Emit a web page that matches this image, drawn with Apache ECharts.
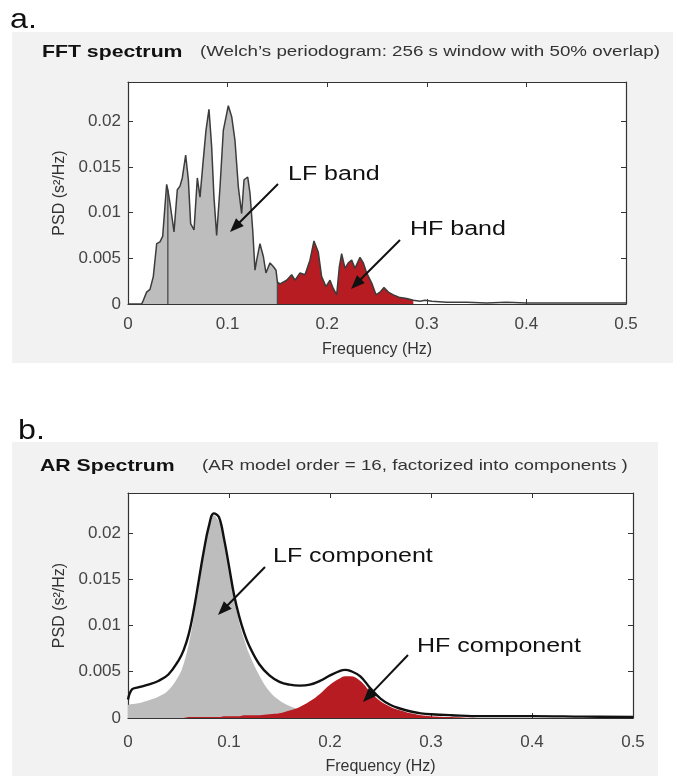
<!DOCTYPE html>
<html>
<head>
<meta charset="utf-8">
<script src="https://cdn.jsdelivr.net/npm/echarts@6/dist/echarts.min.js"></script>
<style>
html,body{margin:0;padding:0;background:#fff;}
#chart{width:673px;height:776px;}
</style>
</head>
<body>
<div id="chart"></div>
<script>
// ---------- Data ----------
// Panel a: FFT (Welch) spectrum
var fftFreq = [0, 0.005, 0.010, 0.0137, 0.0154, 0.0187, 0.0221, 0.0254, 0.0288, 0.0321, 0.0348, 0.0388, 0.040,
  0.0422, 0.0462, 0.0495, 0.0522, 0.0545, 0.0579, 0.0606, 0.0629, 0.0663, 0.0696, 0.0723, 0.0756, 0.0783,
  0.0813, 0.0840, 0.0863, 0.0890, 0.0924, 0.0957, 0.1007, 0.1041, 0.1074, 0.1108, 0.1141, 0.1165, 0.1202,
  0.1225, 0.1252, 0.1275, 0.1292, 0.1325, 0.1359, 0.1385, 0.1426, 0.1459, 0.1486, 0.150, 0.1526, 0.1593,
  0.1643, 0.1677, 0.1727, 0.1777, 0.1827, 0.1867, 0.191, 0.1944, 0.1988, 0.2028, 0.2061, 0.2095, 0.2122,
  0.2145, 0.2179, 0.2212, 0.2246, 0.2279, 0.2329, 0.2363, 0.2396, 0.2447, 0.2490, 0.2530, 0.2570, 0.2614,
  0.2664, 0.2731, 0.2798, 0.2865, 0.2932, 0.2982, 0.305, 0.32, 0.34, 0.36, 0.38, 0.40, 0.43, 0.46, 0.50];
var fftPsd = [0, 0, 0, 0, 0.0004, 0.0013, 0.0016, 0.0030, 0.0066, 0.0068, 0.0074, 0.0131, 0.0125,
  0.0110, 0.0079, 0.0125, 0.0129, 0.0138, 0.0163, 0.0136, 0.0088, 0.0081, 0.0138, 0.0117, 0.0158, 0.0190,
  0.0213, 0.0172, 0.0117, 0.0075, 0.0128, 0.0190, 0.0217, 0.0205, 0.0179, 0.0128, 0.0099, 0.0136, 0.0139,
  0.0121, 0.0081, 0.0037, 0.0048, 0.0066, 0.0052, 0.0034, 0.0045, 0.0041, 0.0037, 0.0024, 0.0022, 0.0026,
  0.0032, 0.0026, 0.0034, 0.0032, 0.0048, 0.0069, 0.0057, 0.0030, 0.0019, 0.0026, 0.0017, 0.0010, 0.0041,
  0.0055, 0.0039, 0.0045, 0.0048, 0.0039, 0.0051, 0.0045, 0.0034, 0.0023, 0.0010, 0.0013, 0.0018, 0.0013,
  0.0010, 0.0007, 0.0006, 0.0004, 0.0003, 0.0004, 0.0003, 0.0002, 0.0002, 0.0001, 0.0002, 0.0001, 0.0001, 0.0001, 0.0001];
var lfBand = [0, 0.15];        // gray fill range (incl. VLF)
var hfBand = [0.15, 0.2865];   // red fill range (as visible)
var bandEdges = [0.04, 0.15];  // dark vertical separators

// Panel b: AR spectrum and its components
var arFreq = [0, 0.004, 0.01, 0.02, 0.03, 0.04, 0.05, 0.055, 0.06, 0.065, 0.07, 0.075, 0.08, 0.085, 0.09,
  0.095, 0.10, 0.105, 0.11, 0.115, 0.12, 0.13, 0.14, 0.15, 0.16, 0.17, 0.18, 0.19, 0.20, 0.21, 0.215, 0.22,
  0.23, 0.24, 0.25, 0.26, 0.27, 0.28, 0.29, 0.30, 0.32, 0.35, 0.40, 0.45, 0.50];
var arTotal = [0.0020, 0.0031, 0.0033, 0.0036, 0.0040, 0.0047, 0.0062, 0.0073, 0.0090, 0.0116, 0.0148, 0.0180,
  0.0207, 0.0221, 0.0217, 0.0194, 0.0164, 0.0133, 0.0110, 0.0092, 0.0078, 0.0058, 0.0046, 0.0039, 0.0036,
  0.0035, 0.0036, 0.0040, 0.0046, 0.0051, 0.0052, 0.0051, 0.0045, 0.0032, 0.0021, 0.0014, 0.0010, 0.0007,
  0.0005, 0.0004, 0.0003, 0.0002, 0.0002, 0.00015, 0.0001];
var arLF = [0.0014, 0.0015, 0.0016, 0.0019, 0.0023, 0.0030, 0.0045, 0.0058, 0.0079, 0.0108, 0.0142, 0.0175,
  0.0204, 0.0219, 0.0212, 0.0196, 0.0162, 0.0130, 0.0104, 0.0085, 0.0069, 0.0046, 0.0029, 0.0019, 0.0013,
  0.0009, 0.0006, 0.0004, 0.0003, 0.0002, 0.0002, 0.0001, 0.0001, 0.0001, 0.0001, 0, 0, 0, 0, 0, 0, 0, 0, 0, 0];
var arHF = [0, 0, 0, 0, 0, 0, 0, 0, 0.0001, 0.0001, 0.0001, 0.0001, 0.0001, 0.0001, 0.0001, 0.0002, 0.0002,
  0.0002, 0.0002, 0.0003, 0.0003, 0.0003, 0.0004, 0.0005, 0.0008, 0.0012, 0.0018, 0.0026, 0.0036, 0.0043,
  0.0045, 0.0045, 0.0040, 0.0028, 0.0018, 0.0012, 0.0008, 0.0005, 0.0003, 0.0002, 0.0001, 0, 0, 0, 0];

var xTicks = [0, 0.1, 0.2, 0.3, 0.4, 0.5];
var yTicks = [0, 0.005, 0.01, 0.015, 0.02];
var yMax = 0.0243;

// ---------- Helpers ----------
function pairs(fx, fy, lo, hi) {
  var out = [];
  for (var i = 0; i < fx.length; i++) {
    if (fx[i] >= lo - 1e-9 && fx[i] <= hi + 1e-9) out.push([fx[i], fy[i]]);
  }
  return out;
}
function valueAt(fx, fy, f) {
  for (var i = 0; i < fx.length; i++) if (Math.abs(fx[i] - f) < 1e-9) return fy[i];
  return 0;
}
var FONT = '"Liberation Sans", Arial, sans-serif';
var SX = 1.25; // horizontal stretch of the reference image text

function fmt(v) { return String(Math.round(v * 10000) / 10000); }

function axesFor(g, labelMargin, nameGap) {
  var common = {
    type: 'value', gridIndex: g, min: 0, max: xTicks[xTicks.length - 1],
    interval: xTicks[1] - xTicks[0], splitLine: { show: false },
    axisLine: { show: true, onZero: false, lineStyle: { color: '#333', width: 1.2 } },
    axisTick: { show: true, inside: true, length: 5, lineStyle: { color: '#333', width: 1 } }
  };
  var xb = Object.assign({}, common, {
    position: 'bottom',
    axisLabel: { show: true, fontSize: 17, color: '#444', fontFamily: FONT, margin: labelMargin, formatter: fmt },
    name: 'Frequency (Hz)', nameLocation: 'middle', nameGap: nameGap,
    nameTextStyle: { fontSize: 16, color: '#333', fontFamily: FONT }
  });
  var xt = Object.assign({}, common, { position: 'top', axisLabel: { show: false } });
  var ycommon = {
    type: 'value', gridIndex: g, min: 0, max: yMax, interval: yTicks[1] - yTicks[0],
    splitLine: { show: false },
    axisLine: { show: true, onZero: false, lineStyle: { color: '#333', width: 1.2 } },
    axisTick: { show: true, inside: true, length: 5, lineStyle: { color: '#333', width: 1 } }
  };
  var yl = Object.assign({}, ycommon, {
    position: 'left',
    axisLabel: { show: true, fontSize: 17, color: '#444', fontFamily: FONT, margin: 7,
      showMaxLabel: false, formatter: fmt },
    name: 'PSD (s²/Hz)', nameLocation: 'middle', nameGap: 52,
    nameTextStyle: { fontSize: 16, color: '#333', fontFamily: FONT }
  });
  var yr = Object.assign({}, ycommon, { position: 'right', axisLabel: { show: false } });
  return { x: [xb, xt], y: [yl, yr] };
}

var A = axesFor(0, 12, 38), B = axesFor(1, 16, 41);

var GRAY = '#bdbdbd', RED = '#b71c22';

function edgeLine(f) {
  return {
    type: 'line', xAxisIndex: 0, yAxisIndex: 0, showSymbol: false, silent: true, z: 4,
    lineStyle: { color: '#4a4a4a', width: 1.3 },
    data: [[f, 0], [f, valueAt(fftFreq, fftPsd, f)]]
  };
}

function txt(x, y, s, size, weight, color, scale) {
  return { type: 'text', x: x, y: y, scaleX: scale || SX, z: 100,
    style: { text: s, fontSize: size, fontWeight: weight || 'normal', fontFamily: FONT,
      fill: color || '#111', align: 'left', verticalAlign: 'middle' } };
}
function arrow(x1, y1, x2, y2) {
  var dx = x2 - x1, dy = y2 - y1, L = Math.sqrt(dx * dx + dy * dy);
  var ux = dx / L, uy = dy / L, hl = 14, hw = 5.5;
  var bx = x2 - ux * hl, by = y2 - uy * hl;
  return [
    { type: 'line', z: 100, shape: { x1: x1, y1: y1, x2: bx + ux * 2, y2: by + uy * 2 },
      style: { stroke: '#111', lineWidth: 2 } },
    { type: 'polygon', z: 100, shape: { points: [[x2, y2], [bx - uy * hw, by + ux * hw], [bx + uy * hw, by - ux * hw]] },
      style: { fill: '#111' } }
  ];
}

var graphics = [
  { type: 'rect', z: -10, shape: { x: 12, y: 32, width: 661, height: 331 }, style: { fill: '#f2f2f2' } },
  { type: 'rect', z: -10, shape: { x: 12, y: 442, width: 646, height: 334 }, style: { fill: '#f2f2f2' } },
  txt(10, 20, 'a.', 28, 'normal', '#111', 1.15),
  txt(18, 431, 'b.', 28, 'normal', '#111', 1.15),
  txt(42, 52, 'FFT spectrum', 17, 'bold', '#111'),
  txt(200, 52, '(Welch\u2019s periodogram: 256 s window with 50% overlap)', 15, 'normal', '#333'),
  txt(40, 466, 'AR Spectrum', 17, 'bold', '#111'),
  txt(202, 466, '(AR model order = 16, factorized into components )', 15, 'normal', '#333'),
  txt(288, 174, 'LF band', 20, 'normal', '#111'),
  txt(410, 229, 'HF band', 20, 'normal', '#111'),
  txt(273, 556, 'LF component', 20, 'normal', '#111'),
  txt(417, 646, 'HF component', 20, 'normal', '#111')
].concat(arrow(278, 184, 230, 232))
 .concat(arrow(400, 240, 351, 289))
 .concat(arrow(265, 567, 218, 615))
 .concat(arrow(408, 655, 363, 702));

var option = {
  animation: false,
  backgroundColor: '#ffffff',
  grid: [
    { left: 128, right: 47, top: 82, bottom: 472, outerBoundsMode: 'none', containLabel: false,
      show: true, backgroundColor: '#ffffff', borderWidth: 0 },
    { left: 128, right: 40, top: 493, bottom: 58, outerBoundsMode: 'none', containLabel: false,
      show: true, backgroundColor: '#ffffff', borderWidth: 0 }
  ],
  xAxis: [
    Object.assign({}, A.x[0]), Object.assign({}, A.x[1]),
    Object.assign({}, B.x[0], { gridIndex: 1 }), Object.assign({}, B.x[1], { gridIndex: 1 })
  ],
  yAxis: [
    Object.assign({}, A.y[0]), Object.assign({}, A.y[1]),
    Object.assign({}, B.y[0], { gridIndex: 1 }), Object.assign({}, B.y[1], { gridIndex: 1 })
  ],
  graphic: graphics,
  series: [
    // Panel a fills
    { name: 'LF band', type: 'line', xAxisIndex: 0, yAxisIndex: 0, showSymbol: false, silent: true, z: 2,
      lineStyle: { width: 0 }, areaStyle: { color: GRAY, opacity: 1 },
      data: pairs(fftFreq, fftPsd, lfBand[0], lfBand[1]) },
    { name: 'HF band', type: 'line', xAxisIndex: 0, yAxisIndex: 0, showSymbol: false, silent: true, z: 2,
      lineStyle: { width: 0 }, areaStyle: { color: RED, opacity: 1 },
      data: pairs(fftFreq, fftPsd, hfBand[0], hfBand[1]) },
    edgeLine(bandEdges[0]), edgeLine(bandEdges[1]),
    { name: 'FFT PSD', type: 'line', xAxisIndex: 0, yAxisIndex: 0, showSymbol: false, silent: true, z: 5,
      lineStyle: { color: '#3c3c3c', width: 1.5 },
      data: pairs(fftFreq, fftPsd, 0, 0.5) },
    // Panel b
    { name: 'LF component', type: 'line', xAxisIndex: 2, yAxisIndex: 2, showSymbol: false, silent: true, z: 2,
      smooth: 0.4, lineStyle: { width: 0 }, areaStyle: { color: GRAY, opacity: 1 },
      data: pairs(arFreq, arLF, 0, 0.5) },
    { name: 'HF component', type: 'line', xAxisIndex: 2, yAxisIndex: 2, showSymbol: false, silent: true, z: 3,
      smooth: 0.4, lineStyle: { width: 0 }, areaStyle: { color: RED, opacity: 1 },
      data: pairs(arFreq, arHF, 0, 0.5) },
    { name: 'AR PSD', type: 'line', xAxisIndex: 2, yAxisIndex: 2, showSymbol: false, silent: true, z: 5,
      smooth: 0.4, lineStyle: { color: '#111', width: 2.4 },
      data: pairs(arFreq, arTotal, 0, 0.5) }
  ]
};

var chart = echarts.init(document.getElementById('chart'), null, { renderer: 'canvas' });
chart.setOption(option);
</script>
</body>
</html>
